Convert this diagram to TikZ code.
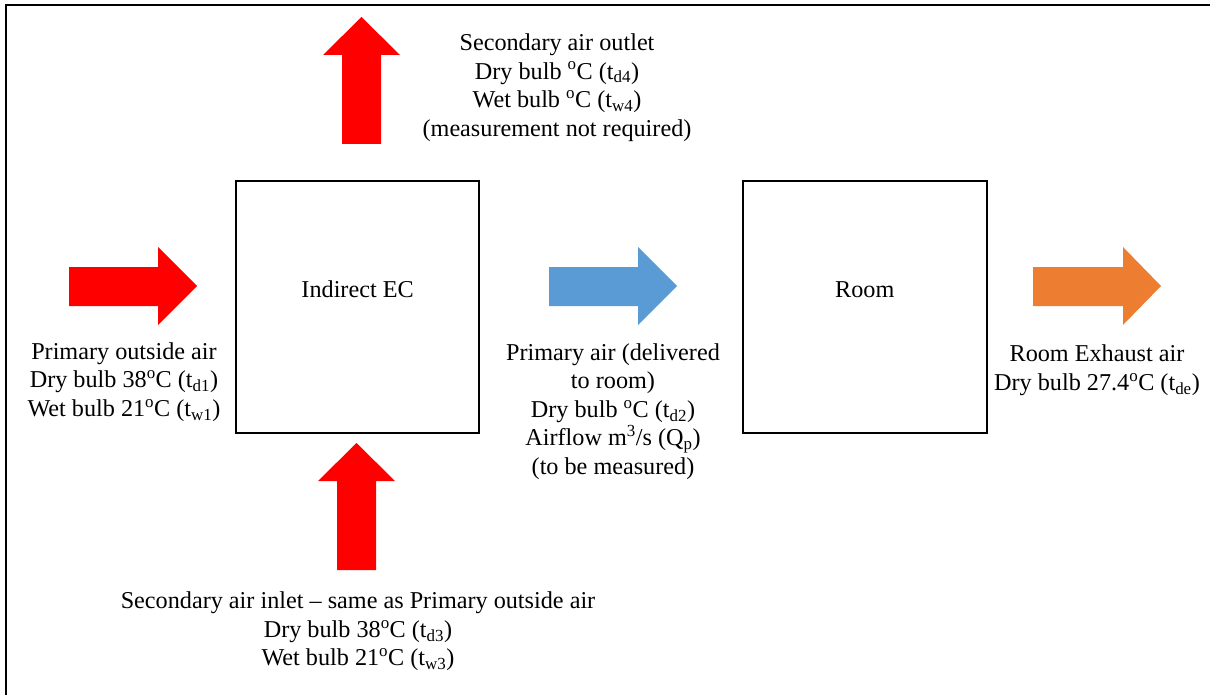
\documentclass[tikz,border=0pt]{standalone}
\usepackage{fontspec}
\setmainfont{Liberation Serif}
\definecolor{arrowred}{HTML}{FF0000}
\definecolor{arrowblue}{HTML}{5B9BD5}
\definecolor{arroworange}{HTML}{ED7D31}
\newcommand{\dg}{\textsuperscript{o}}
\begin{document}
\begin{tikzpicture}[x=1pt,y=-1pt,
  txt/.style={align=center, inner sep=0pt, font=\fontsize{24.2}{28.6}\selectfont},
  boxnode/.style={draw, line width=2pt, inner sep=0pt},
  framestyle/.style={line width=2pt}]
\useasboundingbox (0,0) rectangle (1210,695);
% outer frame (extends beyond the right and bottom edges)
\draw[framestyle] (1210,5) -- (6,5) -- (6,695);
% boxes
\node[boxnode, minimum width=243pt, minimum height=252pt] (iec) at (357.6,307.2) {};
\node[boxnode, minimum width=244.3pt, minimum height=252pt] (room) at (864.8,307) {};
\node[txt] (iecl) at (357.6,289.5) {Indirect EC};
\node[txt] (rooml) at (864.8,289.5) {Room};
% right-pointing block arrows
\fill[arrowred] (69,267) -- (158,267) -- (158,247) -- (197,286) -- (158,325) -- (158,306) -- (69,306) -- cycle;
\fill[arrowblue] (549,267) -- (638,267) -- (638,247) -- (677,286) -- (638,325) -- (638,306) -- (549,306) -- cycle;
\fill[arroworange] (1033,267) -- (1123,267) -- (1123,247) -- (1161,286) -- (1123,325) -- (1123,306) -- (1033,306) -- cycle;
% up-pointing block arrows
\fill[arrowred] (342,144) -- (342,55) -- (323,55) -- (361.5,17) -- (400,55) -- (381,55) -- (381,144) -- cycle;
\fill[arrowred] (337,570) -- (337,481) -- (318,481) -- (356.5,443) -- (395,481) -- (376,481) -- (376,570) -- cycle;
% labels
\node[txt] (topt) at (557,87.5) {Secondary air outlet\\Dry bulb \dg C (t\textsubscript{d4})\\Wet bulb \dg C (t\textsubscript{w4})\\(measurement not required)};
\node[txt] (leftt) at (124,382) {Primary outside air\\Dry bulb 38\dg C (t\textsubscript{d1})\\Wet bulb 21\dg C (t\textsubscript{w1})};
\node[txt] (midt) at (613,411.5) {Primary air (delivered\\to room)\\Dry bulb \dg C (t\textsubscript{d2})\\Airflow m\textsuperscript{3}/s (Q\textsubscript{p})\\(to be measured)};
\node[txt] (rightt) at (1097,370.5) {Room Exhaust air\\Dry bulb 27.4\dg C (t\textsubscript{de})};
\node[txt] (bott) at (358,631.5) {Secondary air inlet – same as Primary outside air\\Dry bulb 38\dg C (t\textsubscript{d3})\\Wet bulb 21\dg C (t\textsubscript{w3})};
\end{tikzpicture}
\end{document}
